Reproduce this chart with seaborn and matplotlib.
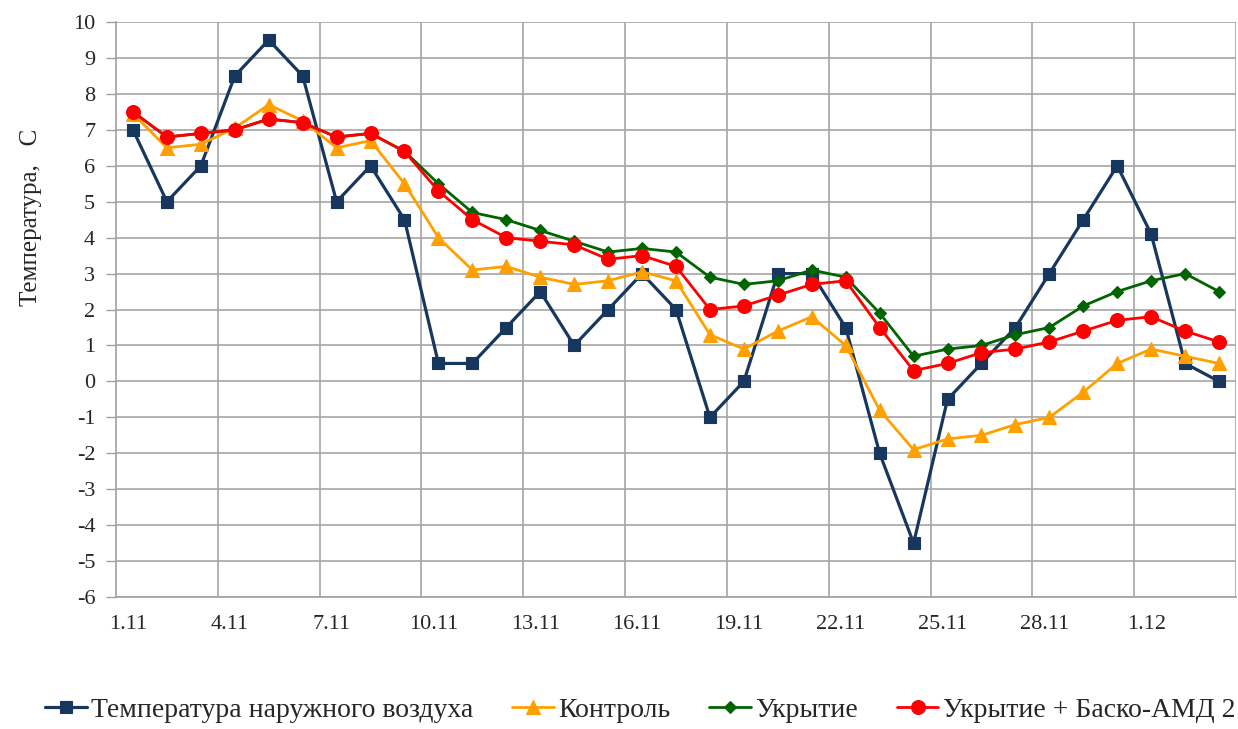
import numpy as np
import pandas as pd
import matplotlib
matplotlib.use("Agg")
import matplotlib.pyplot as plt
import matplotlib.transforms as mtransforms
import seaborn as sns

dates = ["1.11", "2.11", "3.11", "4.11", "5.11", "6.11", "7.11", "8.11", "9.11", "10.11",
         "11.11", "12.11", "13.11", "14.11", "15.11", "16.11", "17.11", "18.11", "19.11", "20.11",
         "21.11", "22.11", "23.11", "24.11", "25.11", "26.11", "27.11", "28.11", "29.11", "30.11",
         "1.12", "2.12", "3.12"]

outdoor = [7, 5, 6, 8.5, 9.5, 8.5, 5, 6, 4.5, 0.5, 0.5, 1.5, 2.5, 1, 2, 3, 2, -1, 0, 3,
           3, 1.5, -2, -4.5, -0.5, 0.5, 1.5, 3, 4.5, 6, 4.1, 0.5, 0]
control = [7.45, 6.5, 6.6, 7.05, 7.7, 7.25, 6.5, 6.7, 5.5, 4.0, 3.1, 3.2, 2.9, 2.7, 2.8, 3.05,
           2.8, 1.3, 0.9, 1.4, 1.8, 1.0, -0.8, -1.9, -1.6, -1.5, -1.2, -1.0, -0.3, 0.5, 0.9, 0.7, 0.5]
cover = [7.5, 6.8, 6.9, 7.0, 7.3, 7.2, 6.8, 6.9, 6.4, 5.5, 4.7, 4.5, 4.2, 3.9, 3.6, 3.7,
         3.6, 2.9, 2.7, 2.8, 3.1, 2.9, 1.9, 0.7, 0.9, 1.0, 1.3, 1.5, 2.1, 2.5, 2.8, 3.0, 2.5]
cover_basko = [7.5, 6.8, 6.9, 7.0, 7.3, 7.2, 6.8, 6.9, 6.4, 5.3, 4.5, 4.0, 3.9, 3.8, 3.4, 3.5,
               3.2, 2.0, 2.1, 2.4, 2.7, 2.8, 1.5, 0.3, 0.5, 0.8, 0.9, 1.1, 1.4, 1.7, 1.8, 1.4, 1.1]

series_names = ["Температура наружного воздуха", "Контроль", "Укрытие", "Укрытие + Баско-АМД 2"]
series_values = [outdoor, control, cover, cover_basko]
colors = ["#17375E", "#FFA000", "#006400", "#FF0000"]
markers = ["s", "^", "D", "o"]
msizes = [8.5, 10, 6, 10]
lwidths = [2.3, 2.0, 2.0, 2.0]

sns.set_theme(style="white")
plt.rcParams["font.family"] = ["Liberation Serif", "DejaVu Serif"]

fig = plt.figure(figsize=(12.38, 7.29), dpi=100)
ax = fig.add_axes([0.0937, 0.181, 0.9047, 0.7888])

pos = np.arange(len(dates))
for name, vals, c, m, ms, lw in zip(series_names, series_values, colors, markers, msizes, lwidths):
    df = pd.DataFrame({"x": pos, "y": vals})
    sns.lineplot(data=df, x="x", y="y", ax=ax, color=c, marker=m, markersize=ms,
                 linewidth=lw, markeredgecolor=c, markeredgewidth=0.8, label=name)

ax.set_xlim(-0.5, len(dates) - 0.5)
ax.set_ylim(-6, 10)
ax.set_yticks(np.arange(-6, 11, 1))
ax.set_yticklabels([str(v) for v in range(-6, 11)], fontsize=16)

label_idx = list(range(0, len(dates), 3))
ax.set_xticks(label_idx)
ax.set_xticklabels([dates[i] for i in label_idx], fontsize=16)
ax.tick_params(axis="x", length=0, pad=13)
ax.tick_params(axis="y", length=7, width=1, color="#A0A0A0", direction="out", pad=8, left=True)

shift = mtransforms.ScaledTranslation(-5 / 100, 0, fig.dpi_scale_trans)
for lbl in ax.get_xticklabels():
    lbl.set_transform(lbl.get_transform() + shift)

grid_c = "#A6A6A6"
for yv in range(-6, 11):
    ax.axhline(yv, color=grid_c, linewidth=1.2, zorder=0)
for xv in np.arange(2.5, len(dates), 3):
    ax.axvline(xv, color=grid_c, linewidth=1.2, zorder=0)

for s in ["top", "right"]:
    ax.spines[s].set_visible(False)
for s in ["left", "bottom"]:
    ax.spines[s].set_color("#A0A0A0")
    ax.spines[s].set_linewidth(1.2)

ax.set_xlabel("")
ax.set_ylabel("Температура,   С", fontsize=18)
ax.yaxis.set_label_coords(-0.066, 0.66)

handles, labels = ax.get_legend_handles_labels()
ax.legend(handles, labels, loc="center", bbox_to_anchor=(0.468, -0.197), ncol=4,
          frameon=False, fontsize=20, handlelength=1.5, handletextpad=0.15,
          columnspacing=1.4, borderaxespad=0)

fig.savefig("out.png", dpi=100, facecolor="white")
